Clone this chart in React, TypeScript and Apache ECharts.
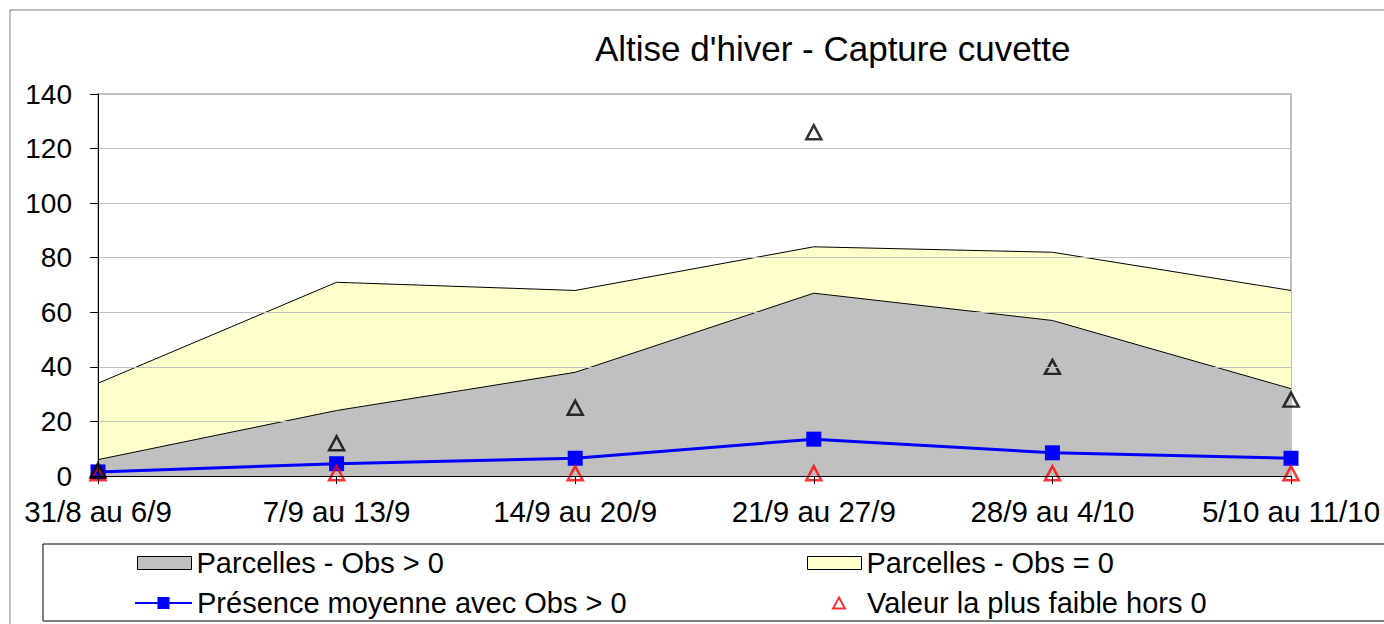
import React, { useEffect, useRef } from "react";
import * as echarts from "echarts";

const categories = ["31/8 au 6/9", "7/9 au 13/9", "14/9 au 20/9", "21/9 au 27/9", "28/9 au 4/10", "5/10 au 11/10"];
const parcellesObsPos = [6, 24, 38, 67, 57, 32];
const parcellesObsZero = [28, 47, 30, 17, 25, 36];
const presenceMoyenne = [1.5, 4.5, 6.5, 13.5, 8.5, 6.5];
const valeurMax = [2, 12, 25, 126, 40, 28];
const valeurMin = [1, 1, 1, 1, 1, 1];
const yTicks = { min: 0, max: 140, interval: 20 };

const FONT = "Liberation Sans, Arial, sans-serif";

export default function App() {
  const ref = useRef<HTMLDivElement>(null);
  useEffect(() => {
    document.body.style.margin = "0";
    const chart = echarts.init(ref.current!, undefined, { renderer: "svg" });
    const legendText = { fontFamily: FONT, fontSize: 29, color: "#000", lineHeight: 32 };
    chart.setOption({
      animation: false,
      backgroundColor: "#fff",
      textStyle: { fontFamily: FONT },
      title: {
        text: "Altise d'hiver - Capture cuvette",
        left: 595,
        top: 31,
        padding: 0,
        textStyle: { fontFamily: FONT, fontSize: 35, fontWeight: "normal", color: "#000" },
      },
      graphic: [
        { type: "rect", shape: { x: 10, y: 10, width: 1500, height: 800 }, style: { fill: "none", stroke: "#808080", lineWidth: 1 }, silent: true, z: -10 },
        { type: "rect", shape: { x: 43, y: 544, width: 1500, height: 77 }, style: { fill: "#fff", stroke: "#000", lineWidth: 1 }, silent: true, z: -5 },
      ],
      legend: [
        {
          left: 137, top: 547, padding: 0, itemWidth: 54, itemHeight: 13, textStyle: legendText,
          data: [{ name: "Parcelles - Obs > 0", icon: "rect", itemStyle: { color: "#C0C0C0", borderColor: "#000", borderWidth: 1 } }],
        },
        {
          left: 807, top: 547, padding: 0, itemWidth: 54, itemHeight: 13, textStyle: legendText,
          data: [{ name: "Parcelles - Obs = 0", icon: "rect", itemStyle: { color: "#FFFFCC", borderColor: "#000", borderWidth: 1 } }],
        },
        {
          left: 134, top: 587, padding: 0, itemWidth: 57, itemHeight: 15, textStyle: legendText,
          data: [{ name: "Présence moyenne avec Obs > 0" }],
        },
        {
          left: 832, top: 587, padding: 0, itemWidth: 12, itemHeight: 11,
          textStyle: { ...legendText, padding: [0, 0, 0, 17] },
          data: [{ name: "Valeur la plus faible hors 0", icon: "triangle", itemStyle: { color: "rgba(0,0,0,0)", borderColor: "#FF0000", borderWidth: 2 } }],
        },
      ],
      grid: {
        left: 98, right: 93, top: 94, bottom: 148,
        show: true, borderColor: "#C0C0C0", borderWidth: 2, backgroundColor: "transparent",
      },
      xAxis: {
        type: "category",
        data: categories,
        boundaryGap: false,
        axisLine: { show: true, lineStyle: { color: "#000", width: 1 } },
        axisTick: { show: true, length: 8, lineStyle: { color: "#000" } },
        axisLabel: { color: "#000", fontSize: 29.5, fontFamily: FONT, margin: 20, interval: 0 },
        splitLine: { show: false },
        z: 10,
      },
      yAxis: {
        type: "value",
        min: yTicks.min,
        max: yTicks.max,
        interval: yTicks.interval,
        axisLine: { show: true, lineStyle: { color: "#000", width: 1 } },
        axisTick: { show: true, length: 8, lineStyle: { color: "#000" } },
        axisLabel: { color: "#000", fontSize: 28, fontFamily: FONT, margin: 26 },
        splitLine: { show: true, lineStyle: { color: "#C0C0C0", width: 1 } },
        z: 10,
      },
      series: [
        {
          name: "Parcelles - Obs > 0",
          type: "line",
          stack: "parcelles",
          data: parcellesObsPos,
          symbol: "none",
          lineStyle: { color: "#000", width: 1 },
          itemStyle: { color: "#C0C0C0" },
          areaStyle: { color: "#C0C0C0", opacity: 1 },
          z: 1,
        },
        {
          name: "Parcelles - Obs = 0",
          type: "line",
          stack: "parcelles",
          data: parcellesObsZero,
          symbol: "none",
          lineStyle: { color: "#000", width: 1 },
          itemStyle: { color: "#FFFFCC" },
          areaStyle: { color: "#FFFFCC", opacity: 1 },
          z: 1,
        },
        {
          name: "Présence moyenne avec Obs > 0",
          type: "line",
          data: presenceMoyenne,
          symbol: "rect",
          symbolSize: 15,
          showAllSymbol: true,
          lineStyle: { color: "#0000FF", width: 3 },
          itemStyle: { color: "#0000FF" },
          z: 3,
        },
        {
          name: "Valeur la plus faible hors 0",
          type: "scatter",
          data: valeurMin,
          symbol: "triangle",
          symbolSize: [15, 14],
          itemStyle: { color: "rgba(0,0,0,0)", borderColor: "#FF0000", borderWidth: 2.5 },
          z: 4,
        },
        {
          name: "Valeur la plus forte",
          type: "scatter",
          data: valeurMax,
          symbol: "triangle",
          symbolSize: [15, 14],
          itemStyle: { color: "rgba(0,0,0,0)", borderColor: "#000", borderWidth: 2.5 },
          z: 5,
        },
      ],
    });
    return () => chart.dispose();
  }, []);
  return <div ref={ref} style={{ width: 1384, height: 624 }} />;
}
